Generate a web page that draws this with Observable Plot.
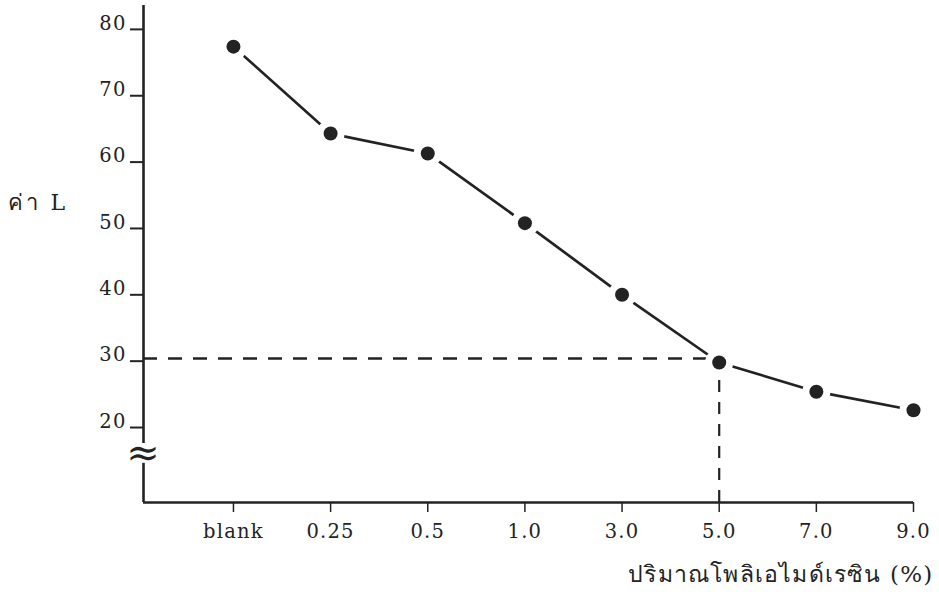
<!DOCTYPE html>
<html>
<head>
<meta charset="utf-8">
<script src="https://cdn.jsdelivr.net/npm/d3@7"></script>
<script src="https://cdn.jsdelivr.net/npm/@observablehq/plot@0.6"></script>
<style>
  html, body { margin: 0; padding: 0; background: #fff; }
  svg text { letter-spacing: 1.2px; }
</style>
</head>
<body>
<div id="chart"></div>
<script>
// Categories (amount of polyamide resin, %)
const categories = ["blank", "0.25", "0.5", "1.0", "3.0", "5.0", "7.0", "9.0"];
// L values
const lValues = [77.4, 64.3, 61.3, 50.8, 40.0, 29.8, 25.4, 22.6];
// Y tick labels
const yTicks = [20, 30, 40, 50, 60, 70, 80];
// Reference (dashed) lines
const refL = 30.4;
const refCategory = "5.0";
// Axis extents and break in the y axis
const yDomain = [8.7, 83.6];
const yBreak = [14.6, 17.6];
const xTitle = "ปริมาณโพลิเอไมด์เรซิน (%)";
const yTitle = "ค่า L";

const data = categories.map((c, i) => ({i, c, L: lValues[i]}));
const xMin = -0.926, xMax = categories.length - 1;
const refIndex = categories.indexOf(refCategory);
const ink = "#232323";

const chart = Plot.plot({
  width: 939,
  height: 606,
  marginLeft: 143,
  marginRight: 26,
  marginTop: 5,
  marginBottom: 104,
  x: {domain: [xMin, xMax], axis: null},
  y: {domain: yDomain, axis: null},
  style: {fontFamily: "'DejaVu Serif', 'Noto Sans', serif", color: ink, background: "#fff"},
  marks: [
    // y axis ticks
    Plot.axisY({ticks: yTicks, tickSize: 13, tickFormat: () => "", strokeWidth: 2, label: null}),
    // y axis tick labels (sitting just above each tick)
    Plot.text(yTicks, {x: () => xMin, y: d => d, text: d => String(d), textAnchor: "end", dx: -17, dy: -6, fontSize: 19.5, fill: ink}),
    // x axis ticks & labels
    Plot.axisX({ticks: d3.range(categories.length), tickFormat: i => categories[i], tickSize: 10, tickPadding: 12, fontSize: 19.5, strokeWidth: 1.5, label: null}),
    // axis lines
    Plot.ruleY([yDomain[0]], {x1: xMin, x2: xMax, stroke: ink, strokeWidth: 2.6}),
    Plot.ruleX([{a: yDomain[1], b: yBreak[1]}, {a: yBreak[0], b: yDomain[0]}], {x: () => xMin, y1: "a", y2: "b", stroke: ink, strokeWidth: 2.6}),
    // break symbol
    Plot.text(["≈"], {x: () => xMin, y: () => (yBreak[0] + yBreak[1]) / 2, fontSize: 40, fill: ink, fontWeight: 300, lineAnchor: "middle"}),
    // dashed reference lines
    Plot.ruleY([refL], {x1: xMin, x2: refIndex, stroke: ink, strokeWidth: 2.4, strokeDasharray: "14,11"}),
    Plot.ruleX([refIndex], {y1: yDomain[0], y2: refL, stroke: ink, strokeWidth: 2.2, strokeDasharray: "12,10"}),
    // data line
    Plot.line(data, {x: "i", y: "L", stroke: ink, strokeWidth: 2.7}),
    // white halos to create gaps around points
    Plot.dot(data, {x: "i", y: "L", r: 14, fill: "#fff", stroke: "none"}),
    Plot.dot(data, {x: "i", y: "L", r: 7, fill: ink, stroke: "none"}),
    // axis titles
    Plot.text([xTitle], {x: () => xMax, y: () => yDomain[0], textAnchor: "end", dx: 20, dy: 72, fontSize: 23, fill: ink}),
    Plot.text([yTitle], {x: () => xMin, y: () => 53.8, textAnchor: "start", dx: -136, fontSize: 22, fill: ink})
  ]
});
// widen the spacing of the y title like the original typesetting
d3.select(chart).selectAll("text").filter(function() { return this.textContent === yTitle; }).style("letter-spacing", "3px");
document.getElementById("chart").append(chart);
</script>
</body>
</html>
